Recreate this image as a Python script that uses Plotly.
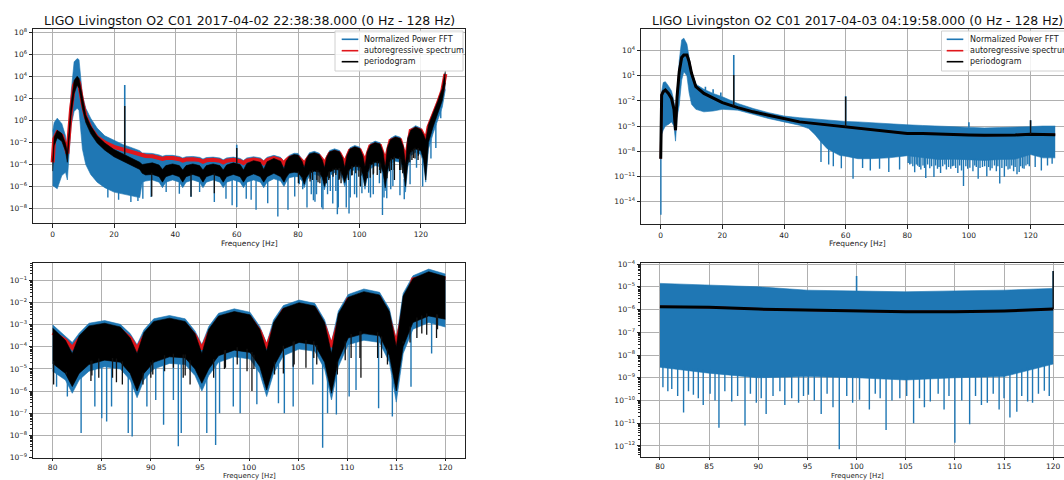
import numpy as np
import plotly.graph_objects as go

W, H = 1064, 480
BLUE = "#1f77b4"
RED = "#e0161b"
BLACK = "#000000"
FONT = "DejaVu Sans"

# ---------------- run 1 : 2017-04-02 22:38:38 (log10 power) ----------------
freq1 = [0, 0.5, 1.5, 3, 4.2, 4.8, 5.3, 6, 7, 8, 8.6, 9.2, 9.7, 10.8, 12.4, 14.5, 17, 20, 23, 26, 28.4,
         29.2, 30.3, 32.5, 34.7, 35.8, 36.9, 39.1, 41.3, 42.4, 43.5, 45.7, 47.9,
         49.0, 50.1, 52.3, 54.5, 55.6, 56.7, 58.9, 61.1, 62.2, 63.3, 65.5, 67.7,
         68.8, 69.9, 72.1, 74.3,
         75.4, 76.1, 77.1, 78.7, 80.0, 81.3,
         82.0, 82.7, 83.7, 85.3, 86.9, 87.9,
         88.6, 89.3, 90.3, 91.9, 93.5, 94.5,
         95.2, 95.9, 96.9, 98.5, 100.1, 101.1,
         101.8, 102.5, 103.5, 105.1, 106.7, 107.7,
         108.4, 109.1, 110.1, 111.7, 113.3, 114.3,
         115.0, 115.7, 116.7, 118.3, 120.0, 120.9,
         121.6, 122.5, 124, 125.5, 127, 128]

fft1_hi = [-1.0, -0.2, 0.2, -0.3, -1.4, -2.5, -1.0, 2.5, 5.3, 5.6, 5.5, 3.8, 2.3, 1.1, 0.2, -0.7, -1.4, -1.8, -2.2, -2.5, -2.75,
           -2.95, -2.97, -3.0, -3.13, -3.25, -3.17, -3.17, -3.27, -3.4, -3.3, -3.27, -3.35,
           -3.5, -3.37, -3.33, -3.41, -3.57, -3.4, -3.33, -3.45, -3.63, -3.4, -3.3, -3.4,
           -3.65, -3.35, -3.17, -3.35,
           -3.75, -3.45, -3.18, -2.98, -3.0, -3.5,
           -3.8, -3.38, -2.93, -2.81, -2.98, -3.4,
           -3.9, -3.23, -2.73, -2.58, -2.73, -3.28,
           -3.9, -3.08, -2.48, -2.28, -2.43, -3.08,
           -3.85, -2.78, -2.13, -1.88, -2.03, -2.78,
           -3.8, -2.38, -1.63, -1.38, -1.53, -2.28,
           -3.7, -1.58, -0.78, -0.48, -0.7, -1.18,
           -1.68, -0.3, 0.7, 1.8, 3.0, 4.3]

fft1_lo = [-5.9, -6.0, -6.2, -5.0, -4.7, -5.4, -3.0, -0.5, 0.8, 1.1, 0.9, -1.3, -2.6, -4.0, -4.9, -5.6, -6.1, -6.5, -6.7, -6.9, -7.0,
           -5.6, -5.5, -5.4, -5.6, -6.1, -5.6, -5.4, -5.6, -6.1, -5.6, -5.4, -5.6,
           -6.1, -5.6, -5.4, -5.6, -6.1, -5.6, -5.4, -5.6, -6.1, -5.6, -5.4, -5.6,
           -6.1, -5.6, -5.3, -5.5,
           -6.0, -5.6, -5.2, -5.1, -5.1, -5.5,
           -6.1, -5.5, -5.1, -4.9, -5.0, -5.5,
           -6.3, -5.5, -5.0, -4.75, -4.8, -5.3,
           -6.0, -5.3, -4.7, -4.45, -4.55, -5.2,
           -6.25, -5.2, -4.4, -4.1, -4.2, -5.0,
           -6.4, -4.9, -3.9, -3.7, -3.8, -4.7,
           -6.5, -4.3, -3.2, -2.9, -3.1, -3.9,
           -5.6, -2.6, -1.2, 0.0, 1.2, 2.8]

ar1 = [-3.8, -1.7, -1.1, -1.4, -2.3, -3.0, -1.4, 1.0, 3.2, 3.7, 3.4, 2.4, 1.6, 0.3, -0.7, -1.55, -2.0, -2.4, -2.65, -2.9, -3.1,
       -3.2, -3.22, -3.25, -3.38, -3.5, -3.42, -3.42, -3.52, -3.65, -3.55, -3.52, -3.6,
       -3.75, -3.62, -3.58, -3.66, -3.82, -3.65, -3.58, -3.7, -3.88, -3.65, -3.55, -3.65,
       -3.9, -3.6, -3.42, -3.6,
       -3.95, -3.65, -3.42, -3.3, -3.36, -3.7,
       -4.05, -3.65, -3.3, -3.15, -3.25, -3.6,
       -4.1, -3.55, -3.05, -2.9, -3.0, -3.5,
       -4.1, -3.4, -2.75, -2.6, -2.7, -3.3,
       -4.05, -3.2, -2.35, -2.2, -2.3, -3.1,
       -4.0, -2.95, -1.85, -1.7, -1.8, -2.8,
       -3.9, -2.5, -0.95, -0.8, -0.92, -1.4,
       -2.0, -0.6, 0.4, 1.5, 2.7, 4.2]

pg1_hi = [-3.7, -1.5, -0.9, -1.2, -2.1, -2.9, -1.1, 1.5, 3.6, 4.0, 3.8, 2.9, 2.0, 0.5, -0.5, -1.4, -2.05, -2.65, -3.05, -3.45, -3.8,
          -4.0, -3.95, -3.85, -4.05, -4.45, -4.1, -3.95, -4.1, -4.5, -4.1, -3.95, -4.1,
          -4.5, -4.1, -3.95, -4.1, -4.5, -4.05, -3.85, -4.0, -4.5, -3.9, -3.65, -3.8,
          -4.45, -3.75, -3.45, -3.7,
          -4.4, -3.7, -3.3, -3.1, -3.15, -3.7,
          -4.3, -3.5, -3.05, -2.93, -3.1, -3.6,
          -4.3, -3.35, -2.85, -2.7, -2.85, -3.4,
          -4.3, -3.2, -2.6, -2.4, -2.55, -3.2,
          -4.2, -2.9, -2.25, -2.0, -2.15, -2.9,
          -4.3, -2.5, -1.75, -1.5, -1.65, -2.4,
          -4.0, -1.7, -0.9, -0.6, -0.82, -1.3,
          -1.8, -0.4, 0.6, 1.7, 2.9, 4.5]

pg1_lo = [-4.6, -2.3, -1.6, -1.9, -2.8, -3.8, -2.0, 0.4, 2.4, 3.2, 2.9, 1.9, 1.1, -0.2, -1.2, -2.05, -2.7, -3.3, -3.7, -4.1, -4.45,
          -4.8, -4.95, -4.9, -5.1, -5.6, -5.1, -4.9, -5.1, -5.6, -5.1, -4.9, -5.1,
          -5.6, -5.1, -4.9, -5.1, -5.6, -5.1, -4.9, -5.1, -5.6, -5.1, -4.85, -5.1,
          -5.6, -5.1, -4.8, -5.1,
          -5.6, -5.2, -4.8, -4.7, -4.75, -5.2,
          -5.8, -5.2, -4.8, -4.6, -4.7, -5.2,
          -6.0, -5.2, -4.7, -4.45, -4.5, -5.0,
          -5.65, -5.0, -4.4, -4.15, -4.25, -4.9,
          -5.95, -4.9, -4.1, -3.8, -3.9, -4.7,
          -6.1, -4.6, -3.6, -3.4, -3.5, -4.4,
          -6.0, -4.0, -2.9, -2.6, -2.75, -3.6,
          -5.4, -2.0, -0.6, 0.6, 1.8, 3.4]

# narrow lines and deep bins of run 1
fft1_dip_f = [18.0, 21.5, 25.5, 27.8, 29.4, 32.1, 37.0, 41.3, 45.1, 47.9, 52.7, 56.5, 58.5, 60.0, 63.1, 64.7,
              66.3, 70.1, 73.4, 76.7, 78.9,
              80.4, 81.5, 82.9, 84.3, 85.0, 85.5, 86.0, 87.7, 88.1, 89.6, 90.5, 91.3, 92.3, 92.8, 93.1,
              95.7, 96.6, 97.0, 98.4, 99.1, 100.8, 101.8, 103.0, 103.6, 104.5, 106.5, 107.5, 108.0, 108.9,
              110.2, 110.9, 113.2, 114.6, 116.5, 118.6, 120.6, 123.3, 124.9, 126.5]
fft1_dip_v = [-7.0, -7.2, -7.4, -7.3, -7.1, -6.95, -6.5, -6.65, -6.95, -6.5, -7.4, -7.1, -7.7, -7.85, -7.1, -7.2,
              -8.1, -7.5, -8.7, -8.1, -6.9,
              -5.8, -6.25, -7.9, -6.7, -7.23, -7.38, -6.7, -7.9, -8.06, -6.7, -6.4, -7.53, -6.4, -8.5, -7.9,
              -7.9, -8.44, -7.0, -6.7, -7.0, -6.6, -6.1, -6.55, -7.0, -6.7, -5.7, -8.57, -7.0, -7.06,
              -6.25, -5.95, -6.78, -7.15, -5.8, -4.3, -6.0, -3.45, -2.5, 0.2]
fft1_line_f = [23.5, 60.0]
fft1_line_v = [3.2, -2.2]
pg1_dip_f = [32.3, 45.1, 52.7,
             80.1, 81.4, 83.9, 84.0, 84.7, 86.1, 86.5, 87.1, 89.2, 90.0, 90.2, 91.4, 92.3, 93.3, 93.5, 94.0,
             96.4, 97.5, 97.6, 98.8, 99.8, 100.3, 100.5, 102.6, 103.5, 104.5, 104.6, 105.8, 106.6, 106.9,
             109.0, 109.8, 110.4, 111.3, 111.4, 113.1, 113.5, 114.1, 115.7, 116.4, 117.1, 117.6, 118.1,
             119.1, 119.2]
pg1_dip_v = [-6.9, -6.9, -6.6,
             -5.7, -5.25, -5.55, -5.3, -5.4, -5.4, -5.6, -5.7, -5.7, -5.4, -5.25, -5.1, -4.95, -5.4, -5.3, -5.7,
             -5.4, -5.0, -4.95, -4.8, -5.1, -6.0, -5.0, -5.25, -5.2, -4.9, -4.8, -4.95, -4.5, -4.8,
             -5.25, -4.6, -4.5, -4.5, -5.4, -4.5, -4.5, -4.8, -3.75, -3.8, -3.6, -3.4, -3.45,
             -3.6, -3.2]
pg1_line_f = [23.5, 60.0]
pg1_line_v = [1.3, -2.5]

# ---------------- run 2 : 2017-04-03 04:19:58 (log10 power) ----------------
freq2 = [0, 0.3, 0.8, 1.5, 2.5, 3.5, 4.3, 4.8, 5.3, 6, 6.8, 7.5, 8.5, 9.2, 10, 11.4, 14, 17, 20, 25,
         30, 35, 40, 45, 48, 50, 52, 54, 56, 58, 60, 64, 68, 74, 80, 85, 90, 95, 100, 105,
         110, 115, 120, 124, 128]
fft2_hi = [-3.0, -0.9, 0.2, 0.3, -0.2, -0.8, -2.0, -3.5, -1.5, 2.8,
           5.3, 5.5, 4.8, 3.2, 1.5, 0.0, -0.6, -1.1, -1.5, -2.3,
           -2.9, -3.4, -3.8, -4.0, -4.1, -4.2, -4.25, -4.3, -4.35, -4.4,
           -4.45, -4.5, -4.6, -4.75, -4.85, -4.93, -5.0, -5.15, -5.18, -5.22,
           -5.18, -5.15, -5.07, -5.0, -5.0]
fft2_lo = [-8.9, -6.0, -5.5, -5.0, -4.8, -4.5, -5.0, -6.8, -4.0, -2.5,
           0.5, 1.5, 1.0, -1.0, -2.4, -3.0, -3.3, -3.2, -3.0, -3.1,
           -3.6, -4.1, -4.5, -4.9, -5.3, -6.0, -6.9, -7.7, -8.1, -8.5,
           -8.6, -8.9, -8.9, -8.8, -8.54, -8.8, -9.0, -8.95, -9.0, -9.1,
           -9.0, -8.95, -8.4, -8.8, -8.8]
pg2 = [-8.9, -1.3, -0.9, -0.7, -1.1, -1.7, -3.0, -5.5, -1.5, 1.5,
       3.2, 3.5, 3.5, 2.7, 1.3, -0.3, -1.1, -1.7, -2.2, -2.8,
       -3.3, -3.7, -4.1, -4.5, -4.62, -4.7, -4.76, -4.82, -4.9, -5.0,
       -5.08, -5.3, -5.45, -5.68, -5.88, -5.9, -5.98, -6.03, -6.06, -6.1,
       -6.1, -6.06, -5.98, -6.05, -6.05]
ar2 = pg2  # the AR estimate sits under the periodogram for this run

fft2_dip_f = [0.05, 52.0, 54.5, 56.0, 58.6, 62.4, 65.5, 68.0, 71.0, 74.0, 77.5,
              80.3, 80.8, 81.2, 81.8, 82.4, 82.9, 83.4, 83.9, 84.4, 85.1, 85.6, 86.0, 86.6, 87.3, 87.9,
              88.65, 89.2, 89.8, 90.3, 90.8, 91.5, 92.2, 92.7, 93.4, 94.1, 94.6, 95.1, 95.7, 96.4,
              97.0, 97.6, 98.24, 99.0, 99.6, 100.3, 101.3, 101.9, 102.4, 103.0, 103.6, 104.4, 105.1,
              105.8, 106.4, 106.9, 107.5, 108.3, 108.9, 109.4, 110.0, 110.7, 111.5, 112.1, 112.7,
              113.3, 113.9, 114.5, 115.0, 115.6, 116.3, 116.8, 117.4, 117.9, 118.5, 119.1, 119.6,
              121.5, 123.5, 125.5, 127.0]
fft2_dip_v = [-15.6, -9.3, -9.6, -9.8, -10.05, -11.3, -10.0, -10.3, -10.1, -10.5, -10.2,
              -9.42, -9.6, -9.5, -9.8, -10.53, -9.6, -9.75, -9.9, -10.2, -9.7, -10.0, -11.2, -9.6, -10.05, -9.8,
              -11.1, -9.7, -10.1, -9.9, -10.6, -9.8, -9.6, -10.2, -9.9, -10.1, -9.8, -9.75, -10.0, -10.6,
              -9.7, -10.3, -12.15, -9.8, -10.1, -9.97, -10.4, -9.7, -9.9, -11.3, -10.0, -9.9, -9.8,
              -11.0, -9.9, -10.3, -10.05, -9.7, -10.4, -9.8, -11.86, -10.0, -11.05, -9.8, -10.2,
              -10.1, -9.7, -10.4, -9.9, -10.75, -10.5, -9.8, -10.05, -10.1, -9.7, -9.57, -9.8,
              -9.9, -10.3, -9.7, -9.5]
fft2_line_f = [12.5, 14.5, 17.0, 19.5, 23.7, 60.0, 100.0, 120.0]
fft2_line_v = [-0.2, -0.3, -0.6, -1.0, 3.5, -1.4, -4.53, -4.3]
pg2_line_f = [23.7, 60.0, 120.0]
pg2_line_v = [1.1, -1.5, -4.3]

TITLES = ["LIGO Livingston O2 C01 2017-04-02 22:38:38.000 (0 Hz - 128 Hz)",
          "LIGO Livingston O2 C01 2017-04-03 04:19:58.000 (0 Hz - 128 Hz)"]
LEGEND_LABELS = ["Normalized Power FFT", "autoregressive spectrum", "periodogram"]
XLABEL = "Frequency [Hz]"
ZOOM_BAND = (80, 120)


def pw(v):
    return [10 ** x for x in v]


def window(fr, vals, lo=None, hi=None):
    """Keep the samples whose frequency lies in [lo, hi]."""
    keep = [i for i, f in enumerate(fr) if (lo is None or f >= lo) and (hi is None or f <= hi)]
    return [fr[i] for i in keep], [vals[i] for i in keep]


def segments(fs, ends, base_f, base_v):
    """Vertical strokes from the band edge to each listed value."""
    xs, ys = [], []
    for f, e in zip(fs, ends):
        start = float(np.interp(f, base_f, base_v))
        xs += [f, f, None]
        ys += [10 ** start, 10 ** e, None]
    return xs, ys


fig = go.Figure()


def add_band(fr, lo, hi, color, ax, band):
    xa, ya = ax
    f_lo, v_lo = window(fr, lo, *band)
    f_hi, v_hi = window(fr, hi, *band)
    fig.add_trace(go.Scatter(x=f_lo, y=pw(v_lo), mode="lines", line=dict(color=color, width=0.6),
                             xaxis=xa, yaxis=ya, showlegend=False, hoverinfo="skip"))
    fig.add_trace(go.Scatter(x=f_hi, y=pw(v_hi), mode="lines", line=dict(color=color, width=0.6),
                             fill="tonexty", fillcolor=color,
                             xaxis=xa, yaxis=ya, showlegend=False, hoverinfo="skip"))


def add_line(fr, vals, color, width, ax, band):
    f, v = window(fr, vals, *band)
    fig.add_trace(go.Scatter(x=f, y=pw(v), mode="lines", line=dict(color=color, width=width),
                             xaxis=ax[0], yaxis=ax[1], showlegend=False, hoverinfo="skip"))


def add_strokes(fs, vs, base_f, base_v, color, width, ax, band):
    fs, vs = window(fs, vs, *band)
    xs, ys = segments(fs, vs, base_f, base_v)
    fig.add_trace(go.Scatter(x=xs, y=ys, mode="lines", line=dict(color=color, width=width),
                             xaxis=ax[0], yaxis=ax[1], showlegend=False, hoverinfo="skip"))


# run 1 : overview (x, y) and 80-120 Hz zoom (x3, y3)
for ax, band in [(("x", "y"), (None, None)), (("x3", "y3"), ZOOM_BAND)]:
    add_band(freq1, fft1_lo, fft1_hi, BLUE, ax, band)
    add_strokes(fft1_dip_f, fft1_dip_v, freq1, [v + 0.15 for v in fft1_lo], BLUE, 1.4, ax, band)
    add_strokes(fft1_line_f, fft1_line_v, freq1, fft1_hi, BLUE, 1.6, ax, band)
    add_line(freq1, ar1, RED, 4, ax, band)
    add_band(freq1, pg1_lo, pg1_hi, BLACK, ax, band)
    add_strokes(pg1_dip_f, pg1_dip_v, freq1, [v + 0.15 for v in pg1_lo], "#111111", 1.3, ax, band)
    add_strokes(pg1_line_f, pg1_line_v, freq1, pg1_hi, "#111111", 1.4, ax, band)

# run 2 : overview (x2, y2) and 80-120 Hz zoom (x4, y4)
for ax, band in [(("x2", "y2"), (None, None)), (("x4", "y4"), ZOOM_BAND)]:
    add_band(freq2, fft2_lo, fft2_hi, BLUE, ax, band)
    add_strokes(fft2_dip_f, fft2_dip_v, freq2, [v + 0.15 for v in fft2_lo], BLUE, 1.4, ax, band)
    add_strokes(fft2_line_f, fft2_line_v, freq2, fft2_hi, BLUE, 1.6, ax, band)
    add_line(freq2, ar2, RED, 2, ax, band)
    add_line(freq2, pg2, BLACK, 3, ax, band)
    add_strokes(pg2_line_f, pg2_line_v, freq2, pg2, "#111111", 1.4, ax, band)


def px_x(p):
    return p / W


def px_y(p):
    return 1 - p / H


def sup(e):
    return "10<sup>" + (str(e) if e >= 0 else "\u2212" + str(-e)) + "</sup>"


tick_font = dict(family=FONT, size=7.5, color="#222222")
common_x = dict(showline=True, linecolor="#222222", linewidth=1, ticks="outside", ticklen=3.5,
                tickcolor="#222222", showgrid=True, gridcolor="#b0b0b0", gridwidth=1,
                zeroline=False, tickfont=tick_font, automargin=False)
common_y = dict(common_x, type="log")
bottom_x = dict(common_x, ticklen=2)

top_left_dom = [px_y(223), px_y(29.3)]
top_right_dom = [px_y(224), px_y(29.3)]
bot_left_dom = [px_y(458), px_y(262.7)]
bot_right_dom = [px_y(457.3), px_y(262.7)]

e_tl = list(range(-8, 9, 2))
e_tr = list(range(-14, 5, 3))
e_bl = list(range(-9, 0))
e_br = list(range(-12, -3))

minor = dict(ticks="outside", ticklen=2, tickcolor="#222222", dtick="D1", showgrid=False)

fig.update_layout(
    width=W, height=H, margin=dict(l=0, r=0, t=0, b=0),
    paper_bgcolor="white", plot_bgcolor="white", showlegend=False,
    xaxis=dict(common_x, domain=[px_x(33), px_x(465)], range=[-6.4, 134.4], dtick=20, tick0=0,
               mirror=True, anchor="y"),
    yaxis=dict(common_y, domain=top_left_dom, range=[-9.3, 8.25], mirror=True, anchor="x",
               tickmode="array", tickvals=[10 ** e for e in e_tl], ticktext=[sup(e) for e in e_tl]),
    xaxis2=dict(common_x, domain=[px_x(641), 1.0], range=[-6.4, 130.85], dtick=20, tick0=0,
                mirror=True, anchor="y2"),
    yaxis2=dict(common_y, domain=top_right_dom, range=[-16.7, 6.56], mirror=False, anchor="x2",
                tickmode="array", tickvals=[10 ** e for e in e_tr], ticktext=[sup(e) for e in e_tr]),
    xaxis3=dict(bottom_x, domain=[px_x(33), px_x(465)], range=[78, 122], dtick=5, tick0=80,
                mirror=True, anchor="y3"),
    yaxis3=dict(common_y, domain=bot_left_dom, range=[-9.03, -0.19], mirror=True, anchor="x3",
                tickmode="array", tickvals=[10 ** e for e in e_bl], ticktext=[sup(e) for e in e_bl],
                minor=minor),
    xaxis4=dict(bottom_x, domain=[px_x(641), 1.0], range=[78.07, 121.1], dtick=5, tick0=80,
                mirror=True, anchor="y4"),
    yaxis4=dict(common_y, domain=bot_right_dom, range=[-12.5, -3.94], mirror=False, anchor="x4",
                tickmode="array", tickvals=[10 ** e for e in e_br], ticktext=[sup(e) for e in e_br],
                minor=minor),
)

shapes = [
    # zoom-window outlines on the overview panels (log10 coordinates on the y axis)
    dict(type="rect", xref="x", yref="y", x0=80, x1=120, y0=-9, y1=-2,
         line=dict(color="#8a8a8a", width=1.5), layer="above"),
    dict(type="rect", xref="x2", yref="y2", x0=80, x1=120, y0=-12, y1=-2,
         line=dict(color="#8a8a8a", width=1.5), layer="above"),
]
annotations = []

# legends
for (bx0, bx1, lx0, lx1, tx) in [(335, 463, 341.7, 358.3, 361.7), (941.5, 1075, 946.7, 963.3, 968.3)]:
    shapes.append(dict(type="rect", xref="paper", yref="paper",
                       x0=px_x(bx0), x1=px_x(bx1), y0=px_y(71), y1=px_y(31),
                       fillcolor="rgba(255,255,255,0.85)", line=dict(color="#d0d0d0", width=1),
                       layer="above"))
    for lab, col, yy in zip(LEGEND_LABELS, [BLUE, RED, BLACK], [39.3, 50.7, 61.7]):
        shapes.append(dict(type="line", xref="paper", yref="paper",
                           x0=px_x(lx0), x1=px_x(lx1), y0=px_y(yy), y1=px_y(yy),
                           line=dict(color=col, width=1.6), layer="above"))
        annotations.append(dict(text=lab, xref="paper", yref="paper", x=px_x(tx), y=px_y(yy),
                                xanchor="left", yanchor="middle", showarrow=False,
                                font=dict(family=FONT, size=8, color="#222222")))

# titles and axis labels
for cx, title in zip([249, 857], TITLES):
    annotations.append(dict(text=title, xref="paper", yref="paper", x=px_x(cx), y=px_y(20.5),
                            xanchor="center", yanchor="middle", showarrow=False,
                            font=dict(family=FONT, size=12.5, color="#111111")))
for cx, cy, fs in [(249, 243, 7.5), (857, 243, 7.5), (249, 476, 7), (857, 476, 7)]:
    annotations.append(dict(text=XLABEL, xref="paper", yref="paper", x=px_x(cx), y=px_y(cy),
                            xanchor="center", yanchor="middle", showarrow=False,
                            font=dict(family=FONT, size=fs, color="#222222")))

fig.update_layout(shapes=shapes, annotations=annotations)
fig.write_html("out.html")
